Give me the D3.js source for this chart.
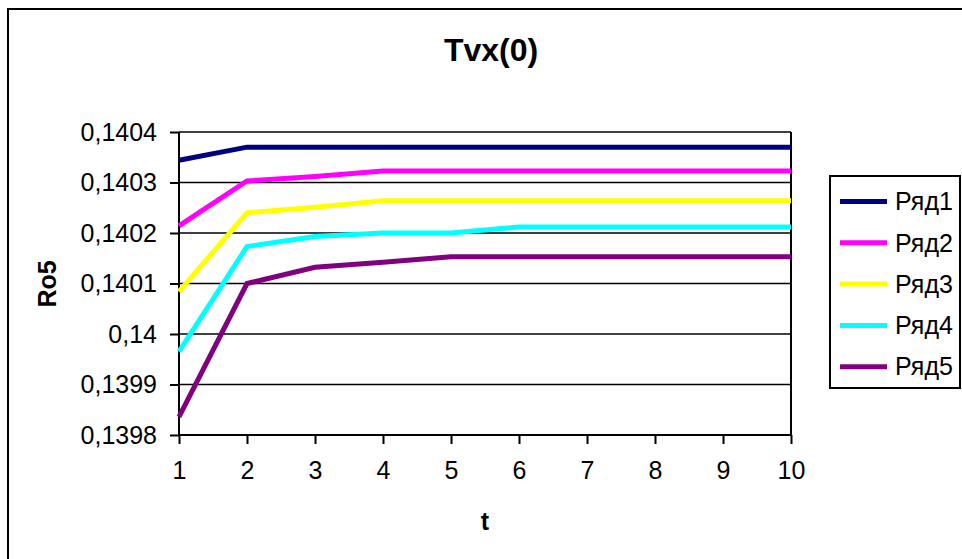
<!DOCTYPE html>
<html><head><meta charset="utf-8">
<script src="https://cdn.jsdelivr.net/npm/d3@7"></script>
<style>body{margin:0;background:#fff}svg{display:block}text{font-family:Arial,"Liberation Sans",sans-serif}</style>
</head><body>
<svg id="c" width="962" height="559"></svg>
<script>
const title = "Tvx(0)";
const xTitle = "t";
const yTitle = "Ro5";
const tValues = [1,2,3,4,5,6,7,8,9,10];
const yTicks = [0.1398,0.1399,0.14,0.1401,0.1402,0.1403,0.1404];
const seriesNames = ["Ряд1","Ряд2","Ряд3","Ряд4","Ряд5"];
const seriesColors = ["#000080","#FF00FF","#FFFF00","#00FFFF","#800080"];
const s1 = [0.140344,0.14037,0.14037,0.14037,0.14037,0.14037,0.14037,0.14037,0.14037,0.14037];
const s2 = [0.140214,0.140303,0.140312,0.140323,0.140323,0.140323,0.140323,0.140323,0.140323,0.140323];
const s3 = [0.140084,0.140240,0.140251,0.140264,0.140264,0.140264,0.140264,0.140264,0.140264,0.140264];
const s4 = [0.139965,0.140173,0.140193,0.140200,0.140200,0.140212,0.140212,0.140212,0.140212,0.140212];
const s5 = [0.139836,0.140100,0.140132,0.140142,0.140153,0.140153,0.140153,0.140153,0.140153,0.140153];
const seriesValues = [s1,s2,s3,s4,s5];

const svg = d3.select("#c");
const x = d3.scaleLinear().domain([1,10]).range([179,791]);
const y = d3.scaleLinear().domain([0.1398,0.1404]).range([435,132]);
const fmt = d => d3.format(".4~f")(d).replace(".", ",");

// outer border
svg.append("rect").attr("x",8).attr("y",9).attr("width",970).attr("height",570)
  .attr("fill","#fff").attr("stroke","#000").attr("stroke-width",2);

// gridlines
svg.append("g").selectAll("line").data(yTicks).join("line")
  .attr("x1",x.range()[0]).attr("x2",x.range()[1])
  .attr("y1",d=>y(d)).attr("y2",d=>y(d))
  .attr("stroke","#000").attr("stroke-width",1.6);
// plot border right
svg.append("line").attr("x1",791).attr("x2",791).attr("y1",132).attr("y2",435)
  .attr("stroke","#000").attr("stroke-width",2);

// axes
const xAxis = svg.append("g").attr("transform","translate(0,435)")
  .call(d3.axisBottom(x).tickValues(tValues).tickFormat(d3.format("d")).tickSize(9).tickPadding(17));
const yAxis = svg.append("g").attr("transform","translate(179,0)")
  .call(d3.axisLeft(y).tickValues(yTicks).tickFormat(fmt).tickSize(9).tickPadding(13));
[xAxis,yAxis].forEach(g=>{
  g.select(".domain").attr("stroke","#000").attr("stroke-width",2);
  g.selectAll(".tick line").attr("stroke","#000").attr("stroke-width",2);
  g.selectAll("text").attr("font-size",25).attr("fill","#000")
   .attr("font-family","Arial, 'Liberation Sans', sans-serif");
});
xAxis.selectAll("text").attr("dy","0.71em");
xAxis.select(".domain").attr("d","M179,0H791");
yAxis.select(".domain").attr("d","M0,132V435");

// lines
const line = d3.line().x((d,i)=>x(tValues[i])).y(d=>y(d));
svg.append("g").selectAll("path").data(seriesValues).join("path")
  .attr("d",line).attr("fill","none")
  .attr("stroke",(d,i)=>seriesColors[i]).attr("stroke-width",5)
  .attr("stroke-linejoin","miter");

// titles
svg.append("text").attr("x",491).attr("y",61).attr("text-anchor","middle")
  .attr("font-size",32).attr("font-weight","bold").text(title);
svg.append("text").attr("x",485).attr("y",530).attr("text-anchor","middle")
  .attr("font-size",25).attr("font-weight","bold").text(xTitle);
svg.append("text").attr("transform","translate(56,284) rotate(-90)").attr("text-anchor","middle")
  .attr("font-size",25).attr("font-weight","bold").text(yTitle);

// legend
const lg = svg.append("g");
lg.append("rect").attr("x",830).attr("y",176).attr("width",130).attr("height",212)
  .attr("fill","#fff").attr("stroke","#000").attr("stroke-width",2);
const items = lg.selectAll("g").data(seriesNames).join("g")
  .attr("transform",(d,i)=>`translate(0,${201.5+i*41.3})`);
items.append("line").attr("x1",840).attr("x2",887).attr("y1",0).attr("y2",0)
  .attr("stroke",(d,i)=>seriesColors[i]).attr("stroke-width",5);
items.append("text").attr("x",895).attr("y",0).attr("dy","0.35em")
  .attr("font-size",25).text(d=>d);
</script>
</body></html>
